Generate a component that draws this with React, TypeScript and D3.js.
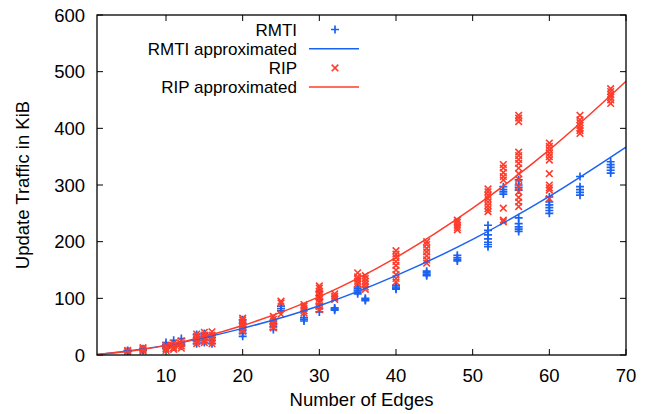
import React from "react";
import * as d3 from "d3";

// measured update traffic (KiB) per number of edges, several runs each
const rmtiEdges = [5, 7, 10, 11, 12, 14, 15, 16, 20, 24, 25, 28, 30, 32, 35, 36, 40, 44, 48, 52, 54, 56, 60, 64, 68];
const rmtiValues = [
  [6, 7, 8],
  [8, 9, 11],
  [12, 15, 18, 22],
  [14, 17, 20, 26],
  [16, 19, 23, 29],
  [20, 25, 30, 36],
  [22, 27, 33, 38],
  [20, 26, 31, 36],
  [33, 38, 44, 50, 56, 62],
  [45, 50, 55, 60],
  [78, 82, 86],
  [60, 63, 66],
  [76, 82, 90, 98, 105, 112],
  [79, 81, 83],
  [108, 111, 114, 117, 120],
  [96, 98, 100],
  [116, 118, 120, 123],
  [140, 142, 145, 148],
  [166, 169, 172, 176],
  [191, 195, 199, 205, 212, 220, 229],
  [284, 288, 292, 297],
  [218, 222, 226, 232, 242, 291, 296, 300, 309],
  [250, 255, 260, 265, 270, 279],
  [282, 287, 292, 297, 315],
  [321, 326, 331, 336, 341],
];

const ripEdges = [5, 7, 10, 11, 12, 14, 15, 16, 20, 24, 25, 28, 30, 32, 35, 36, 40, 44, 48, 52, 54, 56, 60, 64, 68];
const ripValues = [
  [6, 8],
  [7, 9, 11, 13],
  [8, 11, 14, 17],
  [10, 13, 17, 21],
  [12, 16, 20, 25],
  [20, 24, 28, 33, 37],
  [22, 26, 30, 35, 40],
  [20, 25, 30, 35, 41],
  [42, 46, 50, 54, 58, 62, 65],
  [48, 53, 58, 63, 68],
  [72, 92, 95],
  [74, 78, 82, 86, 89],
  [80, 86, 92, 98, 105, 112, 118, 122],
  [98, 101, 104, 108],
  [126, 130, 134, 138, 145],
  [116, 120, 125, 130, 135, 140],
  [129, 135, 142, 150, 158, 165, 172, 178, 184],
  [162, 168, 175, 182, 188, 195, 200],
  [221, 225, 229, 234, 238],
  [253, 258, 264, 270, 276, 282, 288, 293],
  [235, 238, 259, 309, 315, 322, 330, 336],
  [262, 270, 278, 288, 298, 310, 320, 330, 338, 345, 352, 358, 412, 418, 423],
  [276, 291, 295, 300, 320, 344, 350, 356, 362, 368, 374],
  [391, 396, 400, 405, 410, 415, 423],
  [444, 450, 455, 460, 465, 470],
];

// approximated curves
const approxX = [1, 5, 10, 20, 30, 40, 50, 60, 70];
const rmtiApprox = [1, 7, 17, 47, 87, 140, 204, 280, 367];
const ripApprox = [1, 6, 17, 52, 103, 172, 259, 362, 483];

const xTicks = [10, 20, 30, 40, 50, 60, 70];
const yTicks = [0, 100, 200, 300, 400, 500, 600];

const W = 655;
const H = 414;
const margin = { left: 97, right: 29, top: 15, bottom: 59 };
const BLUE = "#1a62f2";
const RED = "#ff3b2b";
const FONT = "'Liberation Sans', Arial, sans-serif";
const FS = 18.5;
const LEGEND_FS = 17;

const x = d3.scaleLinear().domain([1, 70]).range([margin.left, W - margin.right]);
const y = d3.scaleLinear().domain([0, 600]).range([H - margin.bottom, margin.top]);

const line = d3
  .line<[number, number]>()
  .x((d) => x(d[0]))
  .y((d) => y(d[1]))
  .curve(d3.curveMonotoneX);

const flatten = (edges: number[], values: number[][]) =>
  edges.flatMap((e, i) => values[i].map((v) => [e, v] as [number, number]));

const Plus = ({ cx, cy }: { cx: number; cy: number }) => (
  <path d={`M${cx - 4},${cy}H${cx + 4}M${cx},${cy - 4}V${cy + 4}`} stroke={BLUE} strokeWidth={1.7} fill="none" />
);
const Cross = ({ cx, cy }: { cx: number; cy: number }) => (
  <path
    d={`M${cx - 3.3},${cy - 3.3}L${cx + 3.3},${cy + 3.3}M${cx - 3.3},${cy + 3.3}L${cx + 3.3},${cy - 3.3}`}
    stroke={RED}
    strokeWidth={1.6}
    fill="none"
  />
);

export default function App() {
  const rmtiPts = flatten(rmtiEdges, rmtiValues);
  const ripPts = flatten(ripEdges, ripValues);
  const x0 = margin.left;
  const x1 = W - margin.right;
  const y0 = H - margin.bottom;
  const y1 = margin.top;
  const tk = 6;

  const legendX = 297;
  const legendRows = [
    { label: "RMTI", kind: "plus" },
    { label: "RMTI approximated", kind: "blueLine" },
    { label: "RIP", kind: "cross" },
    { label: "RIP approximated", kind: "redLine" },
  ];

  return (
    <svg width={W} height={H} style={{ position: "absolute", left: 0, top: 0, background: "#fff" }} fontFamily={FONT}>
      <defs>
        <clipPath id="plot">
          <rect x={x0} y={y1} width={x1 - x0} height={y0 - y1} />
        </clipPath>
      </defs>

      {/* ticks, mirrored on all sides */}
      <g stroke="#000" strokeWidth={1}>
        {xTicks.map((t) => (
          <g key={"xt" + t}>
            <line x1={x(t)} x2={x(t)} y1={y0} y2={y0 - tk} />
            <line x1={x(t)} x2={x(t)} y1={y1} y2={y1 + tk} />
          </g>
        ))}
        {yTicks.map((t) => (
          <g key={"yt" + t}>
            <line x1={x0} x2={x0 + tk} y1={y(t)} y2={y(t)} />
            <line x1={x1} x2={x1 - tk} y1={y(t)} y2={y(t)} />
          </g>
        ))}
      </g>

      <g fontSize={FS} fill="#000">
        {xTicks.map((t) => (
          <text key={"xl" + t} x={x(t)} y={y0 + 27} textAnchor="middle">
            {t}
          </text>
        ))}
        {yTicks.map((t) => (
          <text key={"yl" + t} x={x0 - 12} y={y(t) + 6.5} textAnchor="end">
            {t}
          </text>
        ))}
        <text x={(x0 + x1) / 2} y={H - 8} textAnchor="middle">
          Number of Edges
        </text>
        <text transform={`translate(29,${(y0 + y1) / 2}) rotate(-90)`} textAnchor="middle">
          Update Traffic in KiB
        </text>
      </g>

      <g clipPath="url(#plot)">
        {rmtiPts.map((p, i) => (
          <Plus key={"b" + i} cx={x(p[0])} cy={y(p[1])} />
        ))}
        {ripPts.map((p, i) => (
          <Cross key={"r" + i} cx={x(p[0])} cy={y(p[1])} />
        ))}
        <path d={line(approxX.map((v, i) => [v, rmtiApprox[i]] as [number, number])) || ""} stroke={BLUE} strokeWidth={1.5} fill="none" />
        <path d={line(approxX.map((v, i) => [v, ripApprox[i]] as [number, number])) || ""} stroke={RED} strokeWidth={1.5} fill="none" />
      </g>

      {/* legend */}
      <g fontSize={LEGEND_FS}>
        {legendRows.map((r, i) => {
          const cy = 29.5 + i * 19.2;
          return (
            <g key={r.label}>
              <text x={legendX} y={cy + 6} textAnchor="end">
                {r.label}
              </text>
              {r.kind === "plus" && <Plus cx={335} cy={cy} />}
              {r.kind === "cross" && <Cross cx={335} cy={cy} />}
              {r.kind === "blueLine" && <line x1={309} x2={359} y1={cy} y2={cy} stroke={BLUE} strokeWidth={1.5} />}
              {r.kind === "redLine" && <line x1={309} x2={359} y1={cy} y2={cy} stroke={RED} strokeWidth={1.5} />}
            </g>
          );
        })}
      </g>

      <rect x={x0} y={y1} width={x1 - x0} height={y0 - y1} fill="none" stroke="#000" strokeWidth={1.3} />
    </svg>
  );
}
